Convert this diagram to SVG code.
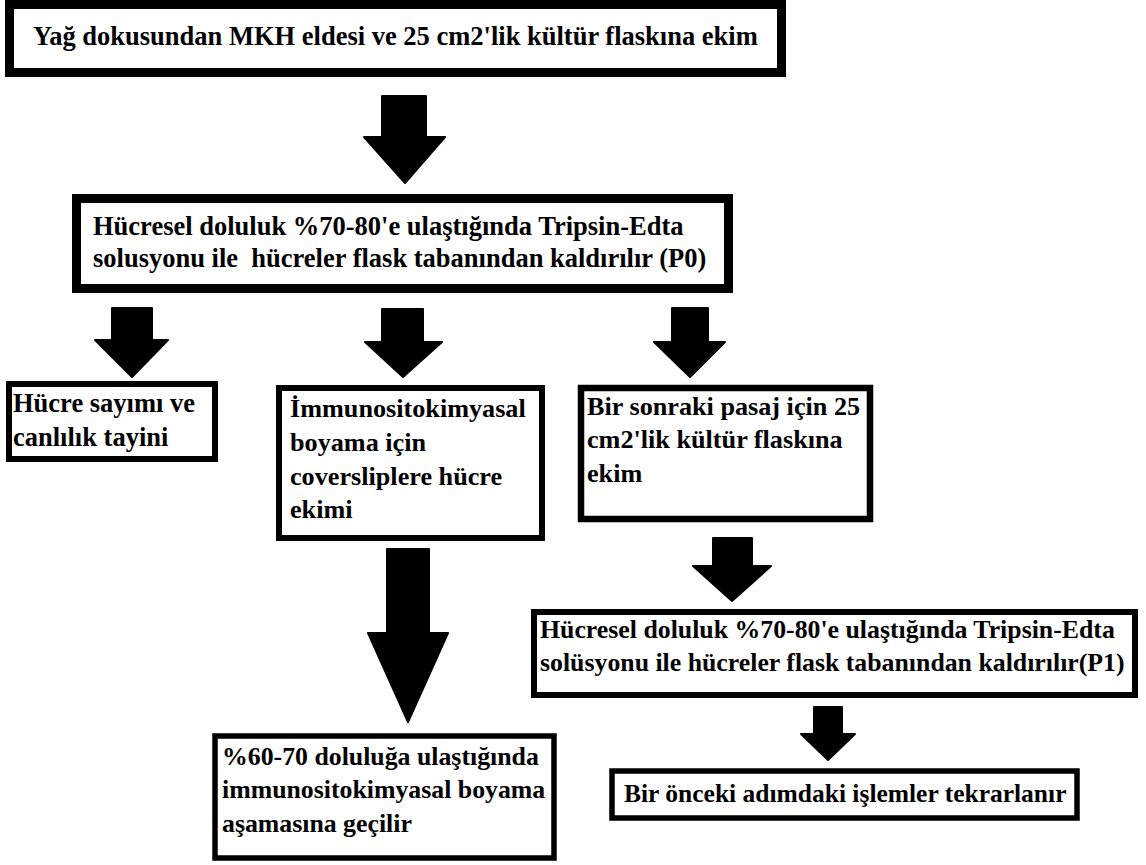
<svg xmlns="http://www.w3.org/2000/svg" width="1146" height="865" viewBox="0 0 1146 865">
<style>
.box{fill:#fff;stroke:#000}
.arr{fill:#000;stroke:#000;stroke-width:2;stroke-linejoin:round}
</style>
<rect width="1146" height="865" fill="#fff"/>
<g font-family="Liberation Serif, Times New Roman, serif" font-weight="bold" font-size="26.5" fill="#000">
<g id="n1">
<rect class="box" x="9.5" y="4.5" width="772" height="68" stroke-width="9"/>
<text x="33" y="45">Yağ dokusundan MKH eldesi ve 25 cm2'lik kültür flaskına ekim</text>
</g>
<g id="n2">
<rect class="box" x="76.5" y="198.5" width="652" height="90" stroke-width="9"/>
<text x="93" y="235">Hücresel doluluk %70-80'e ulaştığında Tripsin-Edta</text>
<text x="93" y="267" xml:space="preserve">solusyonu ile  hücreler flask tabanından kaldırılır (P0)</text>
</g>
<g id="n3">
<rect class="box" x="9" y="384" width="206" height="75" stroke-width="6"/>
<text x="13" y="412">Hücre sayımı ve</text>
<text x="13" y="446">canlılık tayini</text>
</g>
<g id="n4" font-size="26.2">
<rect class="box" x="279" y="388" width="263" height="150" stroke-width="6"/>
<text x="290" y="417">İmmunositokimyasal</text>
<text x="290" y="451">boyama için</text>
<text x="290" y="485">coversliplere hücre</text>
<text x="290" y="518">ekimi</text>
</g>
<g id="n5" font-size="26.2">
<rect class="box" x="581" y="388" width="289" height="131" stroke-width="6.5"/>
<text x="587" y="415">Bir sonraki pasaj için 25</text>
<text x="587" y="448">cm2'lik kültür flaskına</text>
<text x="587" y="482">ekim</text>
</g>
<g id="n6" font-size="25.8">
<rect class="box" x="215" y="736" width="339" height="122" stroke-width="5.5"/>
<text x="222" y="765">%60-70 doluluğa ulaştığında</text>
<text x="222" y="798">immunositokimyasal boyama</text>
<text x="222" y="832">aşamasına geçilir</text>
</g>
<g id="n7" font-size="25.8">
<rect class="box" x="534" y="612" width="601" height="83" stroke-width="6"/>
<text x="540" y="638">Hücresel doluluk %70-80'e ulaştığında Tripsin-Edta</text>
<text x="540" y="671">solüsyonu ile hücreler flask tabanından kaldırılır(P1)</text>
</g>
<g id="n8" font-size="25.5">
<rect class="box" x="612" y="771" width="465" height="47" stroke-width="5.5"/>
<text x="624" y="802">Bir önceki adımdaki işlemler tekrarlanır</text>
</g>
</g>
<g id="connectors">
<path class="arr" d="M382,96 H426 V137 H445 L405,183 L364,137 H382 Z"/>
<path class="arr" d="M112,308 H152 V340 H168 L132,377 L95,340 H112 Z"/>
<path class="arr" d="M382,309 H423 V342 H442 L403,377 L365,342 H382 Z"/>
<path class="arr" d="M672,308 H708 V342 H725 L690,377 L654,342 H672 Z"/>
<path class="arr" d="M387,549 H429 V633 H448 L408,722 L368,633 H387 Z"/>
<path class="arr" d="M713,538 H752 V566 H771 L732,601 L693,566 H713 Z"/>
<path class="arr" d="M814,707 H842 V734 H855 L828,760 L801,734 H814 Z"/>
</g>
</svg>
